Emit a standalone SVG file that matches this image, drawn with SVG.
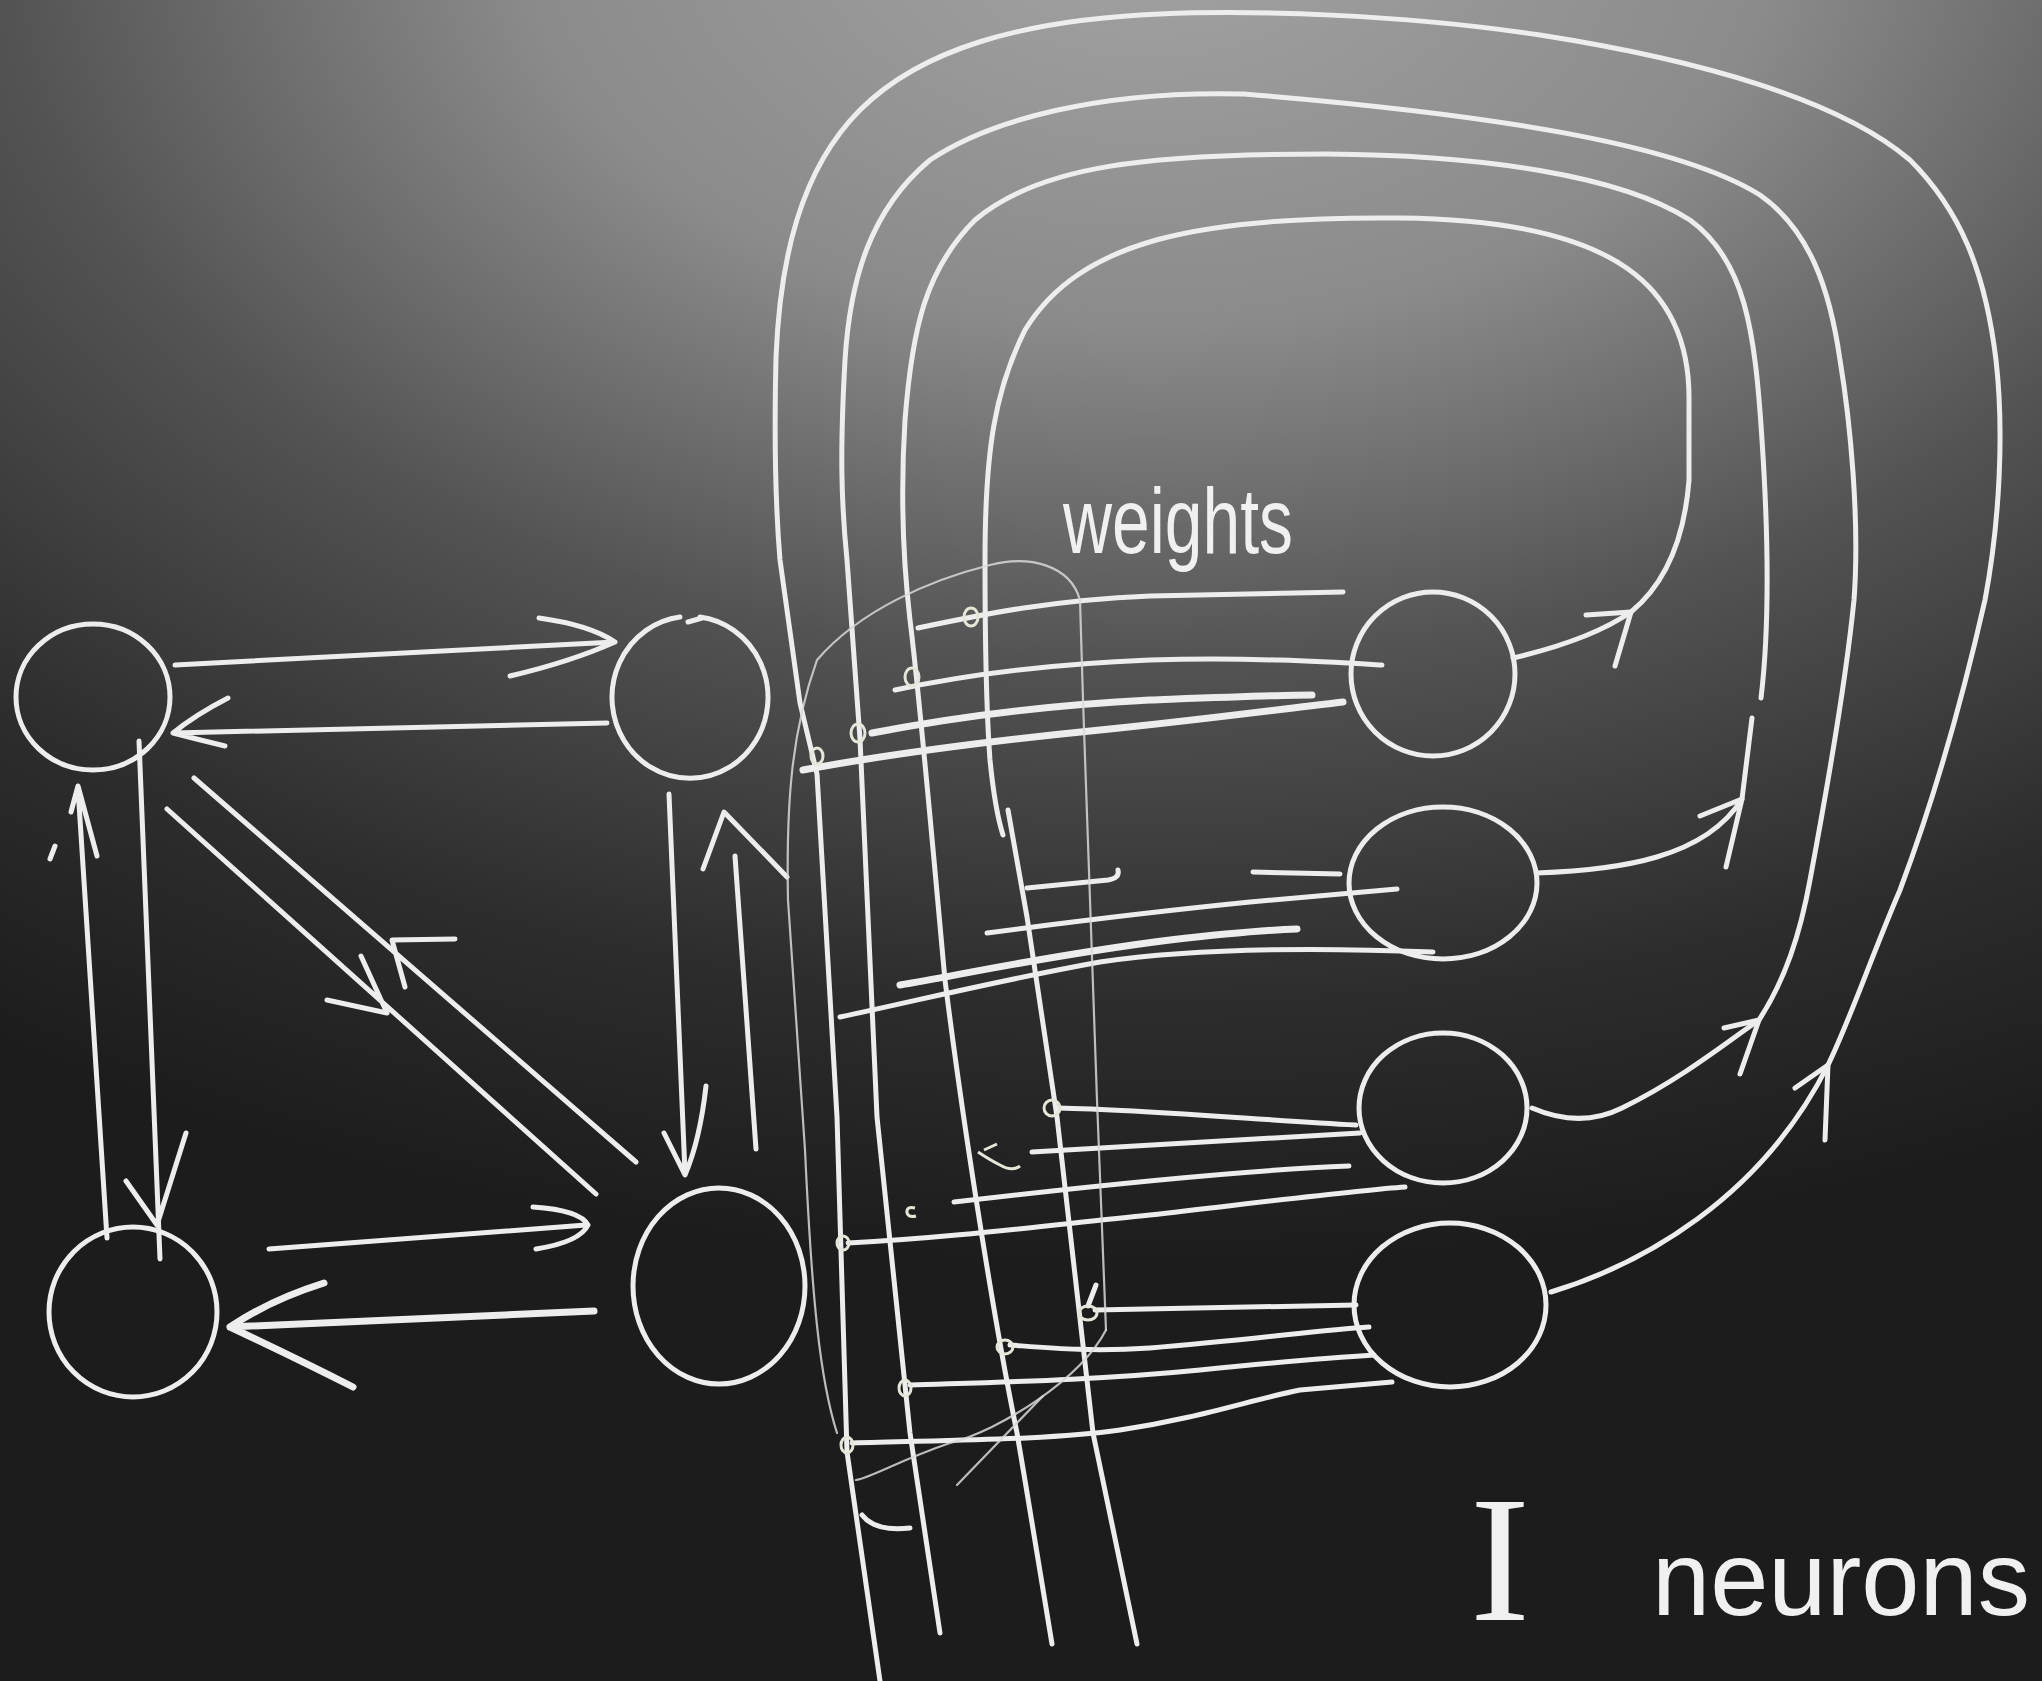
<svg xmlns="http://www.w3.org/2000/svg" width="2042" height="1681" viewBox="0 0 2042 1681">
<defs>
<radialGradient id="board" gradientUnits="userSpaceOnUse" cx="1150" cy="-80" r="1350" gradientTransform="translate(1150,-80) scale(1.55,1) translate(-1150,80)">
<stop offset="0" stop-color="#a3a3a3"/>
<stop offset="0.3" stop-color="#8b8b8b"/>
<stop offset="0.55" stop-color="#535353"/>
<stop offset="0.8" stop-color="#2d2d2d"/>
<stop offset="1" stop-color="#1c1c1c"/>
</radialGradient>
<style>
.ch{fill:none;stroke:#ededed;stroke-width:5;stroke-linecap:round;stroke-linejoin:round}
.thick{stroke-width:7}
.thin{fill:none;stroke:#d8d8d8;stroke-width:2.2;stroke-linecap:round;stroke-linejoin:round;opacity:.85}
.knot{fill:none;stroke:#e6e6d8;stroke-width:3}
.txt{fill:#f0f0f0;font-family:"Liberation Sans",Arial,sans-serif}
</style>
</defs>
<rect x="0" y="0" width="2042" height="1681" fill="url(#board)"/>

<!-- left graph nodes -->
<g id="node-a"><ellipse class="ch" cx="93" cy="697" rx="77" ry="73"/></g>
<g id="node-b"><path class="ch" d="M700,617 A78,81 0 1 1 680,617"/><path class="ch" d="M688,622 L702,618"/></g>
<g id="node-c"><ellipse class="ch" cx="133" cy="1312" rx="84" ry="85"/></g>
<g id="node-d"><ellipse class="ch" cx="719" cy="1286" rx="86" ry="98"/></g>

<!-- neurons -->
<g id="neuron-1"><ellipse class="ch" cx="1433" cy="674" rx="82" ry="82"/></g>
<g id="neuron-2"><ellipse class="ch" cx="1443" cy="883" rx="94" ry="76"/></g>
<g id="neuron-3"><ellipse class="ch" cx="1443" cy="1108" rx="84" ry="75"/></g>
<g id="neuron-4"><ellipse class="ch" cx="1450" cy="1305" rx="96" ry="82"/></g>

<g id="connectors">
<!-- left graph edges -->
<path class="ch" d="M175,665 L615,642 M539,618 Q590,625 615,642 Q570,662 510,676"/>
<path class="ch" d="M607,723 L173,733 M228,698 Q195,715 173,733 Q200,740 225,746"/>
<path class="ch" d="M107,1238 L78,788 M71,812 L78,786 L97,856 M50,859 L55,846"/>
<path class="ch" d="M139,741 L160,1259 M126,1181 L157,1225 L186,1133"/>
<path class="ch" d="M194,778 L636,1162 M455,939 L392,940 L405,987"/>
<path class="ch" d="M167,809 L596,1194 M361,956 L387,1013 L327,1000"/>
<path class="ch" d="M669,794 L685,1173 M664,1133 L685,1175 Q700,1140 706,1086"/>
<path class="ch" d="M756,1149 L735,856 M703,869 L724,812 L787,877"/>
<path class="ch" d="M269,1249 L586,1225 M533,1207 Q580,1210 588,1225 Q580,1242 536,1249"/>
<path class="ch thick" d="M594,1311 L230,1327 M324,1283 Q270,1300 230,1327 Q300,1360 353,1387"/>

<!-- recurrent loops -->
<path class="ch" d="M1513,658 Q1590,640 1631,612 Q1682,570 1689,480 L1689,400 C1690,290 1620,220 1400,218 C1200,216 1080,240 1025,330 C995,390 985,450 985,560 C985,650 987,720 990,760 Q995,810 1003,835"/>
<path class="ch" d="M1586,615 L1631,612 L1615,666"/>
<path class="ch" d="M1008,810 L1027,917 L1057,1117 L1093,1433 L1137,1644"/>

<path class="ch" d="M1537,873 C1620,870 1705,858 1742,799 L1752,718 M1761,698 C1768,640 1770,560 1762,440 C1755,330 1745,260 1690,220 C1620,175 1480,155 1327,154 C1150,154 1040,165 975,220 C925,270 912,330 905,420 C900,500 903,560 910,620 C920,700 933,850 945,980 C960,1100 990,1300 1017,1433 C1030,1510 1045,1600 1052,1644"/>
<path class="ch" d="M1700,816 L1742,799 L1726,867"/>

<path class="ch" d="M1532,1108 C1560,1120 1590,1124 1622,1108 C1680,1080 1730,1040 1759,1020 C1785,980 1800,935 1810,880 C1825,800 1845,690 1854,600 C1860,520 1850,420 1840,360 C1830,290 1810,230 1760,195 C1680,145 1500,115 1244,94 C1100,90 990,120 930,160 C870,210 850,280 845,360 C840,450 841,500 847,560 L860,739 L877,1117 L910,1433 L940,1633"/>
<path class="ch" d="M1724,1028 L1759,1020 L1740,1074"/>

<path class="ch" d="M1551,1292 C1640,1265 1760,1200 1828,1065 C1850,1020 1870,960 1900,890 C1930,810 1960,710 1985,600 C2000,520 2004,430 1996,360 C1985,270 1960,210 1910,160 C1840,100 1700,60 1540,35 C1400,14 1250,10 1160,14 C1020,20 920,50 860,110 C800,170 780,260 776,357 C774,440 775,500 780,560 L800,703 L817,774 L837,1117 L847,1452 L880,1681"/>
<path class="ch" d="M1795,1088 L1828,1065 L1825,1140"/>

<!-- inputs to neuron 1 -->
<path class="ch" d="M918,628 C980,615 1050,600 1150,596 L1343,592"/>
<path class="ch" d="M895,690 C960,676 1050,664 1150,660 C1250,657 1330,662 1382,665"/>
<path class="ch thick" d="M872,733 C950,718 1050,705 1150,700 C1230,697 1280,695 1312,695"/>
<path class="ch thick" d="M803,770 C900,752 1000,740 1100,730 C1200,720 1290,708 1343,702"/>
<!-- inputs to neuron 2 -->
<path class="ch" d="M1027,888 L1108,880 Q1120,878 1118,870"/>
<path class="ch" d="M1253,872 L1340,874"/>
<path class="ch" d="M987,933 C1070,922 1170,910 1250,902 C1320,896 1370,891 1397,889"/>
<path class="ch thick" d="M900,985 C960,975 1050,955 1170,940 C1230,933 1270,930 1297,929"/>
<path class="ch" d="M840,1017 C920,1000 1000,980 1100,962 C1200,947 1330,948 1433,952"/>
<!-- inputs to neuron 3 -->
<path class="ch" d="M1058,1108 C1150,1110 1260,1120 1356,1125"/>
<path class="ch" d="M1032,1152 C1150,1146 1260,1138 1360,1133"/>
<path class="ch" d="M954,1202 C1100,1185 1250,1170 1349,1166"/>
<path class="ch" d="M848,1243 C950,1238 1050,1225 1150,1215 C1280,1200 1360,1190 1405,1187"/>
<!-- inputs to neuron 4 -->
<path class="ch" d="M1095,1310 L1356,1305 M1088,1306 L1096,1285"/>
<path class="ch" d="M1010,1345 C1050,1348 1090,1352 1150,1348 C1250,1340 1320,1330 1369,1327"/>
<path class="ch" d="M910,1385 C1000,1382 1100,1380 1200,1370 C1280,1362 1340,1357 1374,1355"/>
<path class="ch" d="M852,1443 C950,1440 1050,1440 1120,1430 C1200,1418 1250,1400 1300,1390 L1392,1382"/>
<!-- weight knots -->
<ellipse class="knot" cx="971" cy="617" rx="7" ry="9"/>
<ellipse class="knot" cx="912" cy="677" rx="7" ry="9"/>
<ellipse class="knot" cx="858" cy="733" rx="7" ry="9"/>
<ellipse class="knot" cx="817" cy="756" rx="6" ry="8"/>
<ellipse class="knot" cx="1052" cy="1108" rx="8" ry="8"/>
<ellipse class="knot" cx="843" cy="1243" rx="6" ry="7"/>
<ellipse class="knot" cx="1088" cy="1313" rx="9" ry="7"/>
<ellipse class="knot" cx="1005" cy="1347" rx="8" ry="7"/>
<ellipse class="knot" cx="905" cy="1388" rx="6" ry="8"/>
<ellipse class="knot" cx="847" cy="1445" rx="6" ry="8"/>
<path class="knot" d="M915,1208 Q906,1206 907,1213 Q909,1218 916,1216"/>
<path class="knot" d="M978,1152 Q990,1160 1000,1165 Q1012,1172 1020,1166 M984,1150 L997,1144"/>

<!-- weights bracket -->
<path class="thin" d="M837,1433 C820,1380 812,1300 805,1150 L788,900 C786,800 792,730 817,660 C860,610 930,580 990,565 C1030,555 1070,565 1080,600 L1083,700 L1097,1100 L1106,1330"/>
<path class="thin" d="M1106,1330 C1080,1380 1000,1430 950,1443 C900,1460 870,1478 856,1480"/>
<path class="thin" d="M1043,1396 L957,1485"/>
<path class="ch" d="M862,1515 Q875,1532 910,1528"/>
</g>

<g id="labels">
<text class="txt" x="1063" y="553" font-size="92" textLength="230" lengthAdjust="spacingAndGlyphs">weights</text>
<text x="1500" y="1620" font-size="180" text-anchor="middle" fill="#f0f0f0" font-family="'Liberation Serif','Times New Roman',serif">I</text>
<text class="txt" x="1652" y="1615" font-size="106" textLength="378" lengthAdjust="spacingAndGlyphs">neurons</text>
</g>
</svg>
